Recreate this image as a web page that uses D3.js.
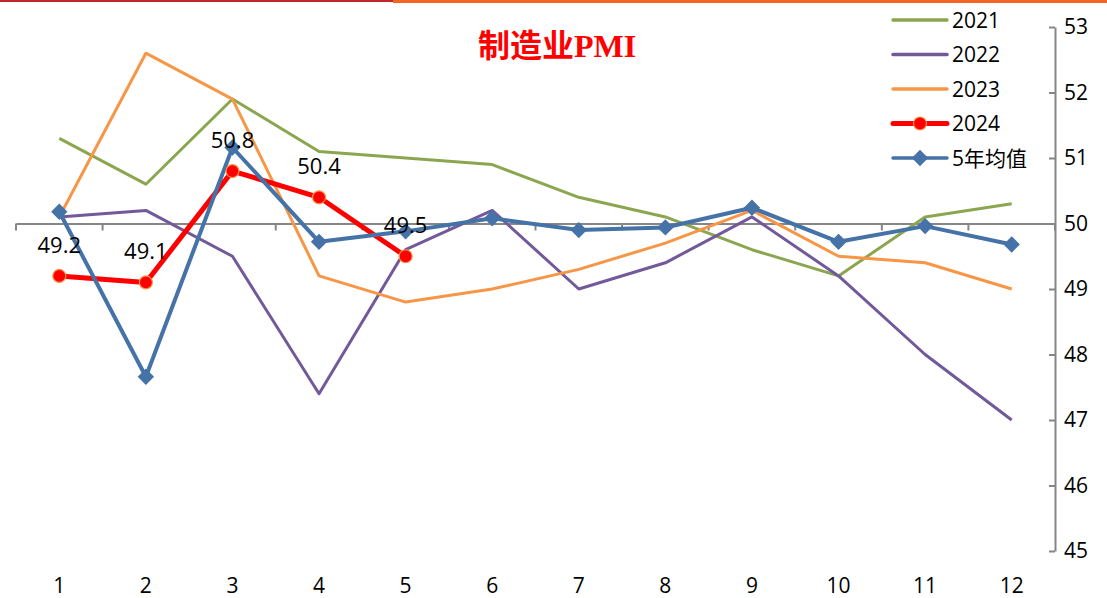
<!DOCTYPE html>
<html>
<head>
<meta charset="utf-8">
<script src="https://d3js.org/d3.v7.min.js"></script>
<style>
  body { margin: 0; background: #fff; }
  text { font-family: "Open Sans", "Liberation Sans", sans-serif; }
</style>
</head>
<body>
<svg id="chart" width="1107" height="598"></svg>
<script>
    // months and series
    const months = ["1","2","3","4","5","6","7","8","9","10","11","12"];
    const y2021 = [51.3, 50.6, 51.9, 51.1, 51.0, 50.9, 50.4, 50.1, 49.6, 49.2, 50.1, 50.3];
    const y2022 = [50.1, 50.2, 49.5, 47.4, 49.6, 50.2, 49.0, 49.4, 50.1, 49.2, 48.0, 47.0];
    const y2023 = [50.1, 52.6, 51.9, 49.2, 48.8, 49.0, 49.3, 49.7, 50.2, 49.5, 49.4, 49.0];
    const y2024 = [49.2, 49.1, 50.8, 50.4, 49.5];
    const avg5 = [50.18, 47.66, 51.16, 49.72, 49.88, 50.08, 49.9, 49.94, 50.24, 49.72, 49.96, 49.68];
    const yTicks = [45, 46, 47, 48, 49, 50, 51, 52, 53];

    const svg = d3.select("#chart");

    const x = d3.scaleBand().domain(months).range([16, 1055]);
    const y = d3.scaleLinear().domain([45, 53]).range([551, 27]);
    const cx = d => x(d) + x.bandwidth() / 2;

    // top rules
    svg.append("line").attr("x1", 0).attr("x2", 393).attr("y1", 1).attr("y2", 1)
        .attr("stroke", "#c0272d").attr("stroke-width", 2);
    svg.append("line").attr("x1", 393).attr("x2", 1107).attr("y1", 1.5).attr("y2", 1.5)
        .attr("stroke", "#f26522").attr("stroke-width", 3);

    // right y axis
    const yAxis = svg.append("g")
        .attr("transform", "translate(1055,0)")
        .call(d3.axisRight(y).tickValues(yTicks).tickSize(0).tickPadding(9));
    yAxis.select(".domain").attr("stroke", "#868686").attr("stroke-width", 2);
    yAxis.selectAll(".tick line").attr("x1", 0).attr("x2", -6)
        .attr("stroke", "#868686").attr("stroke-width", 2);
    yAxis.selectAll(".tick text").attr("font-size", 21).attr("fill", "#000")
        .style("font-family", "'Open Sans', sans-serif");

    // category axis drawn at 50
    const xAxis = svg.append("g")
        .attr("transform", `translate(0,${y(50)})`)
        .call(d3.axisBottom(x).tickSize(0).tickFormat(""));
    xAxis.select(".domain").attr("stroke", "#868686").attr("stroke-width", 2);
    const bounds = months.map(m => x(m)).concat([1055]);
    xAxis.selectAll(".sep").data(bounds).join("line")
        .attr("class", "sep")
        .attr("x1", d => d).attr("x2", d => d)
        .attr("y1", 0).attr("y2", 7)
        .attr("stroke", "#868686").attr("stroke-width", 2);

    // x labels at bottom
    svg.append("g").selectAll("text").data(months).join("text")
        .attr("x", d => cx(d)).attr("y", 593)
        .attr("text-anchor", "middle")
        .attr("font-size", 21)
        .text(d => d);

    const line = d3.line().x((d, i) => cx(months[i])).y(d => y(d));

    const series = [
        {name: "2021", data: y2021, color: "#8BA64F", w: 3},
        {name: "2022", data: y2022, color: "#72599A", w: 3},
        {name: "2023", data: y2023, color: "#F79646", w: 3},
        {name: "2024", data: y2024, color: "#FF0000", w: 5},
        {name: "5年均值", data: avg5, color: "#4572A7", w: 4}
    ];

    series.forEach(s => {
        svg.append("path").datum(s.data)
            .attr("d", line)
            .attr("fill", "none")
            .attr("stroke", s.color)
            .attr("stroke-width", s.w)
            .attr("stroke-linejoin", "round");
    });

    // 2024 markers
    svg.append("g").selectAll("circle").data(y2024).join("circle")
        .attr("cx", (d, i) => cx(months[i]))
        .attr("cy", d => y(d))
        .attr("r", 6.5)
        .attr("fill", "#FF0000")
        .attr("stroke", "#F79646")
        .attr("stroke-width", 1.2);

    // 5yr diamonds
    const diamond = d3.symbol().type(d3.symbolDiamond2).size(170);
    svg.append("g").selectAll("path").data(avg5).join("path")
        .attr("transform", (d, i) => `translate(${cx(months[i])},${y(d)})`)
        .attr("d", diamond)
        .attr("fill", "#4572A7");

    // 2024 data labels
    svg.append("g").selectAll("text").data(y2024).join("text")
        .attr("x", (d, i) => cx(months[i]))
        .attr("y", d => y(d) - 23)
        .attr("text-anchor", "middle")
        .attr("font-size", 22)
        .attr("fill", "#000")
        .text(d => d.toFixed(1));

    // title
    const title = svg.append("text")
        .attr("x", 557).attr("y", 57)
        .attr("text-anchor", "middle")
        .attr("fill", "#FF0000")
        .attr("font-size", 32)
        .attr("font-weight", "bold");
    title.append("tspan").style("font-family", "'Noto Sans CJK SC', sans-serif").text("制造业");
    title.append("tspan").style("font-family", "'Liberation Serif', serif").text("PMI");

    // legend
    const legend = svg.append("g").selectAll("g").data(series).join("g")
        .attr("transform", (d, i) => `translate(893,${20 + i * 34.5})`);
    legend.append("line")
        .attr("x1", 0).attr("x2", 54).attr("y1", 0).attr("y2", 0)
        .attr("stroke", d => d.color)
        .attr("stroke-width", d => d.name === "2024" ? 5 : 3.5)
        .attr("stroke-linecap", "round");
    legend.filter(d => d.name === "2024").append("circle")
        .attr("cx", 27).attr("cy", 0).attr("r", 6.5)
        .attr("fill", "#FF0000").attr("stroke", "#F79646").attr("stroke-width", 1.2);
    legend.filter(d => d.name === "5年均值").append("path")
        .attr("transform", "translate(27,0)")
        .attr("d", diamond).attr("fill", "#4572A7");
    legend.append("text")
        .attr("x", 59).attr("y", 7.5)
        .attr("font-size", 21)
        .text(d => d.name)
        .style("font-family", "'Open Sans', 'Noto Sans CJK SC', sans-serif");
</script>
</body>
</html>
